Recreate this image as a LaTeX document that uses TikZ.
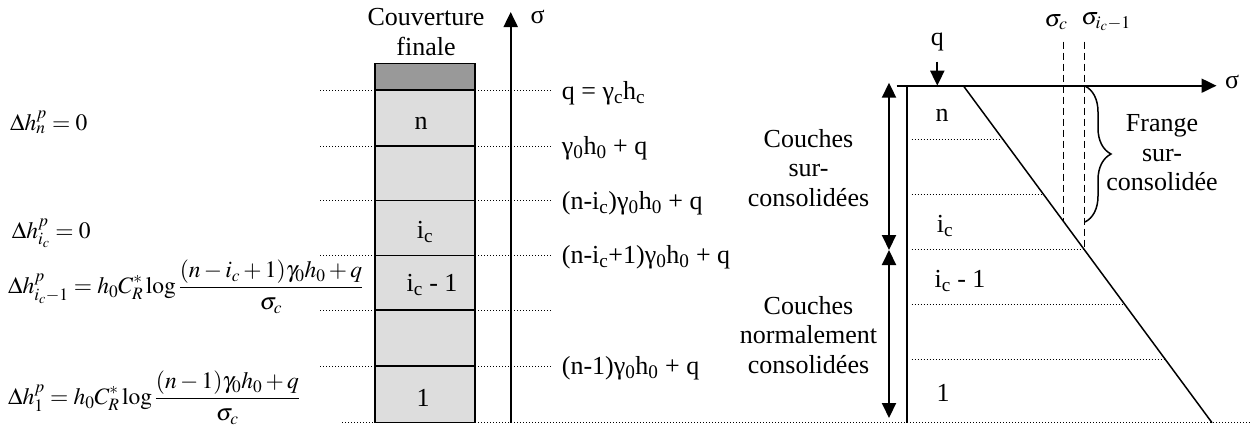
\documentclass[tikz,border=0pt]{standalone}
\usepackage{mathptmx}
\usepackage{fontspec}
\setmainfont{Liberation Serif}
\usetikzlibrary{arrows.meta,decorations.pathreplacing}
\newcommand\ssb[1]{\textsubscript{#1}}
\definecolor{darkcell}{HTML}{999999}
\definecolor{lightcell}{HTML}{DDDDDD}
\begin{document}
\begin{tikzpicture}[x=1pt,y=-1pt,
  txt/.style={font=\fontsize{26}{29.5}\selectfont, inner sep=0pt, align=center},
  lbl/.style={txt, anchor=west},
  frm/.style={font=\fontsize{23.5}{28}\selectfont, inner sep=0pt, anchor=base west},
  mth/.style={font=\fontsize{24}{28}\selectfont, inner sep=0pt},
  dotline/.style={line width=1pt, dash pattern=on 1pt off 2pt},
  dashline/.style={line width=1.6pt, dash pattern=on 7pt off 4pt},
  sep/.style={line width=1.8pt},
  axis/.style={line width=2pt, -{Triangle[length=15pt,width=14pt]}},
  dbl/.style={line width=2pt, {Triangle[length=15pt,width=14pt]}-{Triangle[length=15pt,width=14pt]}}
  ]
\useasboundingbox (0,0) rectangle (1252,434);

% ---------- left column ----------
\fill[darkcell] (375,63.3) rectangle (475,90);
\fill[lightcell] (375,90) rectangle (475,422.7);
\draw[line width=1.2pt] (375,63.3) rectangle (475,422.7);
\foreach \yy in {90,146,200.5,255.5,310,366}{
  \draw[sep] (375,\yy) -- (475,\yy);
  \draw[dotline] (320,\yy) -- (375,\yy);
  \draw[dotline] (475,\yy) -- (551.7,\yy);
}
\draw[dotline] (342,422.7) -- (375,422.7);
\draw[dotline] (475,422.7) -- (1252,422.7);

\node[txt] (couv) at (426,32) {Couverture\\finale};
\node[txt] (cn) at (421,123) {n};
\node[txt] (cic) at (425,232) {i\ssb{c}};
\node[txt] (cic1) at (432,285) {i\ssb{c} - 1};
\node[txt] (c1) at (423,398) {1};

% left axis
\coordinate (axb) at (510.7,422.7);
\coordinate (axt) at (510.7,12);
\draw[axis] (axb) -- (axt);
\node[txt] (sigL) at (537.5,17) {σ};

% stress labels
\node[lbl] (l1) at (561.7,93) {q = γ\ssb{c}h\ssb{c}};
\node[lbl] (l2) at (561.7,148) {γ\ssb{0}h\ssb{0} + q};
\node[lbl] (l3) at (561.7,203) {(n-i\ssb{c})γ\ssb{0}h\ssb{0} + q};
\node[lbl] (l4) at (561.7,257) {(n-i\ssb{c}+1)γ\ssb{0}h\ssb{0} + q};
\node[lbl] (l5) at (561.7,368) {(n-1)γ\ssb{0}h\ssb{0} + q};

% formulas
\node[frm] (f1) at (10,130) {$\Delta h_n^{p} = 0$};
\node[frm] (f2) at (11.7,238) {$\Delta h_{i_c}^{p} = 0$};
\node[frm] (f3) at (8,293.5) {$\displaystyle \Delta h_{i_c-1}^{p} = h_0 C_R^{*}\log\frac{(n-i_c+1)\gamma_0 h_0+q}{\sigma_c}$};
\node[frm] (f4) at (8,404.5) {$\displaystyle \Delta h_1^{p} = h_0 C_R^{*}\log\frac{(n-1)\gamma_0 h_0+q}{\sigma_c}$};

% ---------- right diagram ----------
\coordinate (hax0) at (896.7,85.7);
\coordinate (hax1) at (1216.5,85.7);
\draw[axis] (hax0) -- (hax1);
\node[txt] (sigR) at (1232,82) {σ};
\coordinate (v0) at (907.3,85.7);
\coordinate (v1) at (907.3,422.7);
\draw[line width=2pt] (v0) -- (v1);

\coordinate (qa) at (937.3,61.7);
\coordinate (qb) at (937.3,85.7);
\draw[axis] (qa) -- (qb);
\node[txt] (qlbl) at (937.3,42) {q};

\coordinate (d0) at (963.3,85.7);
\coordinate (d1) at (1212,422.7);
\draw[line width=1.5pt] (d0) -- (d1);

\draw[dotline] (911.7,139.3) -- (1002.9,139.3);
\draw[dotline] (911.7,194) -- (1043.3,194);
\draw[dotline] (911.7,249.3) -- (1084.2,249.3);
\draw[dotline] (911.7,304) -- (1124.6,304);
\draw[dotline] (911.7,359) -- (1165.3,359);

\node[txt] (rn) at (942,115) {n};
\node[txt] (ric) at (945,226) {i\ssb{c}};
\node[txt] (ric1) at (960,281) {i\ssb{c} - 1};
\node[txt] (r1) at (943,393) {1};

% dashed sigma lines
\coordinate (sc0) at (1063.3,41.7);
\coordinate (sc1) at (1063.3,221);
\draw[dashline] (sc0) -- (sc1);
\coordinate (si0) at (1084.3,41.7);
\coordinate (si1) at (1084.3,249.3);
\draw[dashline] (si0) -- (si1);
\node[mth] (sclbl) at (1056,22) {$\sigma_c$};
\node[mth] (silbl) at (1106,22) {$\sigma_{i_c-1}$};

% brace
\coordinate (br0) at (1085,86);
\coordinate (br1) at (1085,222);
\draw[line width=1.5pt, decorate, decoration={brace, amplitude=26pt}] (br0) -- (br1);
\node[txt] (frange) at (1162,153) {Frange\\sur-\\consolidée};

% double arrows
\coordinate (da0) at (889,82.7);
\coordinate (da1) at (889,250);
\coordinate (da2) at (889,418);
\draw[dbl] (da0) -- (da1);
\draw[dbl] (da1) -- (da2);
\node[txt] (sur) at (808.5,168) {Couches\\sur-\\consolidées};
\node[txt] (norm) at (808.5,335) {Couches\\normalement\\consolidées};
\end{tikzpicture}
\end{document}
